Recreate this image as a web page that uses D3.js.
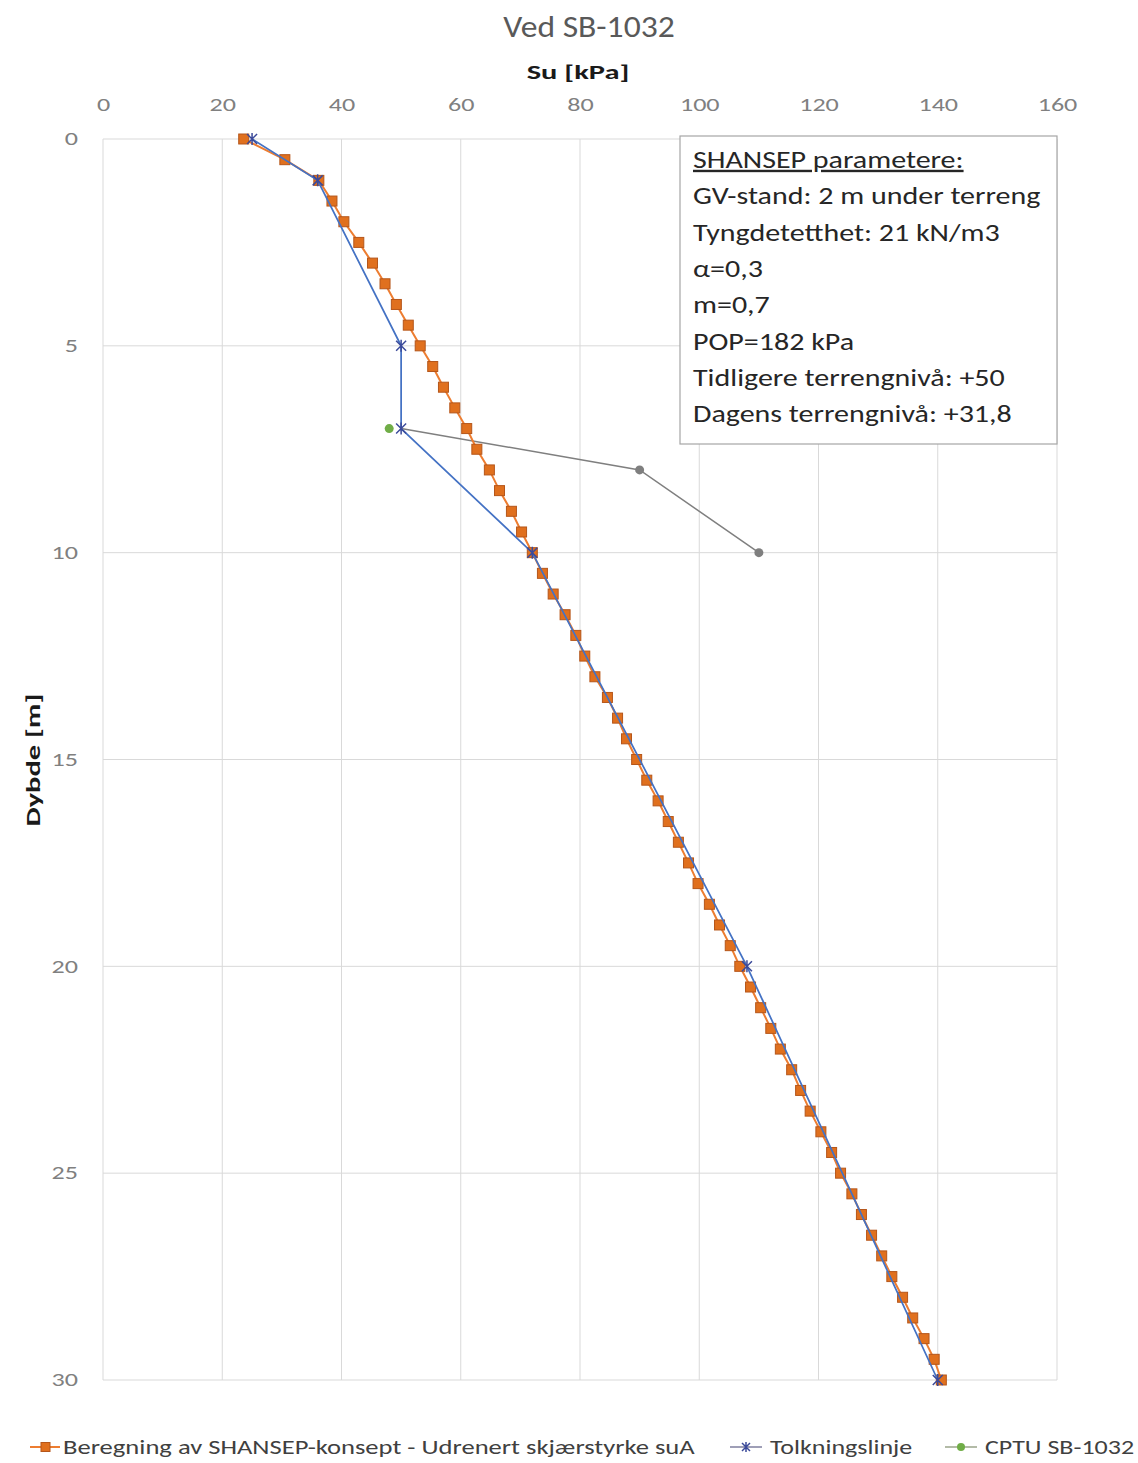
<!DOCTYPE html>
<html><head><meta charset="utf-8">
<script src="https://cdn.jsdelivr.net/npm/d3@7"></script>
<style>
body{margin:0;background:#fff;}
text{font-family:Carlito,"Open Sans",sans-serif;}
</style></head>
<body><svg id="chart" width="1138" height="1463"></svg>
<script>
// ---- data ----
const shansepDepth = [0,0.5,1,1.5,2,2.5,3,3.5,4,4.5,5,5.5,6,6.5,7,7.5,8,8.5,9,9.5,10,10.5,11,11.5,12,12.5,13,13.5,14,14.5,15,15.5,16,16.5,17,17.5,18,18.5,19,19.5,20,20.5,21,21.5,22,22.5,23,23.5,24,24.5,25,25.5,26,26.5,27,27.5,28,28.5,29,29.5,30];
const shansepSu = [23.6,30.5,36.2,38.4,40.4,42.9,45.2,47.3,49.2,51.2,53.2,55.3,57.1,59.0,61.0,62.7,64.8,66.5,68.5,70.2,72.0,73.7,75.5,77.5,79.3,80.8,82.5,84.6,86.3,87.8,89.5,91.2,93.1,94.8,96.5,98.2,99.8,101.7,103.4,105.2,106.8,108.6,110.3,112.0,113.6,115.5,117.0,118.6,120.4,122.2,123.7,125.6,127.2,128.9,130.6,132.3,134.1,135.8,137.7,139.4,140.6];
const tolkDepth = [0,1,5,7,10,20,30];
const tolkSu = [25,36,50,50,72,108,140];
const cptuDepth = [7];
const cptuSu = [48];
const grayDepth = [7,8,10];
const graySu = [50,90,110];
const xTicks = [0,20,40,60,80,100,120,140,160];
const yTicks = [0,5,10,15,20,25,30];
const infoLines = ["SHANSEP parametere:","GV-stand: 2 m under terreng","Tyngdetetthet: 21 kN/m3","α=0,3","m=0,7","POP=182 kPa","Tidligere terrengnivå: +50","Dagens terrengnivå: +31,8"];
const legendLabels = ["Beregning av SHANSEP-konsept - Udrenert skjærstyrke suA","Tolkningslinje","CPTU SB-1032"];

const svg = d3.select("#chart");
const x = d3.scaleLinear().domain([0,160]).range([103,1057]);
const y = d3.scaleLinear().domain([0,30]).range([139,1380]);
const grid = "#d9d9d9", txt = "#595959";

// horizontal stretch applied to text (reference image is stretched)
function stretched(parent, str, px, py, size, sx, anchor, opts){
  opts = opts || {};
  const g = parent.append("g").attr("transform",`translate(${px},${py}) scale(${sx},1)`);
  const t = g.append("text").attr("x",0).attr("y",0).attr("text-anchor",anchor||"start")
    .attr("fill",opts.fill||txt).style("font-size",size+"px").text(str);
  if(opts.bold) t.style("font-weight","bold");
  if(opts.underline) t.style("text-decoration","underline");
  return t;
}

// gridlines
svg.append("g").selectAll("line").data(xTicks).join("line")
  .attr("x1",d=>x(d)).attr("x2",d=>x(d)).attr("y1",y(0)).attr("y2",y(30))
  .attr("stroke",grid).attr("stroke-width",1);
svg.append("g").selectAll("line").data(yTicks).join("line")
  .attr("x1",x(0)).attr("x2",x(160)).attr("y1",d=>y(d)).attr("y2",d=>y(d))
  .attr("stroke",grid).attr("stroke-width",1);

// axes
const xAxis = svg.append("g").attr("transform",`translate(0,${y(0)})`)
  .call(d3.axisTop(x).tickValues(xTicks).tickSize(0).tickPadding(28));
xAxis.select(".domain").remove();
xAxis.selectAll("text").attr("fill","#808080").style("font-size","18px")
  .style("font-family",'Carlito,"Open Sans",sans-serif')
  .attr("transform","scale(1.45,1)");
const yAxis = svg.append("g").attr("transform",`translate(${x(0)},0)`)
  .call(d3.axisLeft(y).tickValues(yTicks).tickSize(0).tickPadding(25));
yAxis.select(".domain").remove();
yAxis.selectAll("text").attr("fill","#808080").style("font-size","18px")
  .style("font-family",'Carlito,"Open Sans",sans-serif')
  .attr("x",0).attr("transform","translate(-25,0) scale(1.45,1)");

// titles
stretched(svg,"Ved SB-1032",589,37,30,1.12,"middle");
stretched(svg,"Su [kPa]",578,79,21,1.45,"middle",{bold:true,fill:"#1a1a1a"});
svg.append("g").attr("transform","translate(40,760) rotate(-90) scale(1.45,1)")
  .append("text").attr("text-anchor","middle").attr("fill","#1a1a1a")
  .style("font-size","21px").style("font-weight","bold").text("Dybde [m]");

const line = d3.line().x(d=>x(d[0])).y(d=>y(d[1]));
const sh = shansepSu.map((v,i)=>[v,shansepDepth[i]]);
const tk = tolkSu.map((v,i)=>[v,tolkDepth[i]]);
const gr = graySu.map((v,i)=>[v,grayDepth[i]]);
const cp = cptuSu.map((v,i)=>[v,cptuDepth[i]]);

// gray series
svg.append("path").datum(gr).attr("d",line).attr("fill","none").attr("stroke","#7f7f7f").attr("stroke-width",1.5);
svg.append("g").selectAll("circle").data(gr.slice(1)).join("circle")
  .attr("cx",d=>x(d[0])).attr("cy",d=>y(d[1])).attr("r",4.5).attr("fill","#7f7f7f");

// shansep
svg.append("path").datum(sh).attr("d",line).attr("fill","none").attr("stroke","#ED7D31").attr("stroke-width",2);
svg.append("g").selectAll("rect").data(sh).join("rect")
  .attr("x",d=>x(d[0])-5).attr("y",d=>y(d[1])-5).attr("width",10).attr("height",10)
  .attr("fill","#E0701E").attr("stroke","#B5561A").attr("stroke-width",1);

// tolkningslinje
svg.append("path").datum(tk).attr("d",line).attr("fill","none").attr("stroke","#4472C4").attr("stroke-width",1.75);
function star(g,cx,cy,s,col){
  const p = `M${cx-s},${cy-s}L${cx+s},${cy+s}M${cx-s},${cy+s}L${cx+s},${cy-s}M${cx},${cy-s-1}L${cx},${cy+s+1}`;
  g.append("path").attr("d",p).attr("stroke",col).attr("stroke-width",1.5).attr("fill","none");
}
const tg = svg.append("g");
tk.forEach(d=>star(tg,x(d[0]),y(d[1]),5,"#3B4A9A"));

// cptu
svg.append("g").selectAll("circle").data(cp).join("circle")
  .attr("cx",d=>x(d[0])).attr("cy",d=>y(d[1])).attr("r",4.5).attr("fill","#70AD47");

// info box
const bx = 680, by = 136, bw = 377, bh = 308;
svg.append("rect").attr("x",bx).attr("y",by).attr("width",bw).attr("height",bh)
  .attr("fill","#fff").attr("stroke","#a6a6a6").attr("stroke-width",1.2);
infoLines.forEach((t,i)=>{
  stretched(svg,t,693,168+i*36.3,24,1.25,"start",{fill:"#262626",underline:i===0});
});

// legend
const ly = 1447;
const lg = svg.append("g");
lg.append("line").attr("x1",30).attr("x2",60).attr("y1",ly).attr("y2",ly).attr("stroke","#ED7D31").attr("stroke-width",2);
lg.append("rect").attr("x",41).attr("y",ly-4.5).attr("width",9).attr("height",9).attr("fill","#E0701E").attr("stroke","#B5561A");
stretched(lg,legendLabels[0],63,ly+7,20,1.33,"start",{fill:"#404040"});
lg.append("line").attr("x1",730).attr("x2",762).attr("y1",ly).attr("y2",ly).attr("stroke","#7f7f9f").attr("stroke-width",1.5);
star(lg,746,ly,4,"#3B4A9A");
stretched(lg,legendLabels[1],770,ly+7,20,1.3,"start",{fill:"#404040"});
lg.append("line").attr("x1",945).attr("x2",977).attr("y1",ly).attr("y2",ly).attr("stroke","#9aa58a").attr("stroke-width",1.5);
lg.append("circle").attr("cx",961).attr("cy",ly).attr("r",4).attr("fill","#70AD47");
stretched(lg,legendLabels[2],985,ly+7,20,1.3,"start",{fill:"#404040"});
</script></body></html>
